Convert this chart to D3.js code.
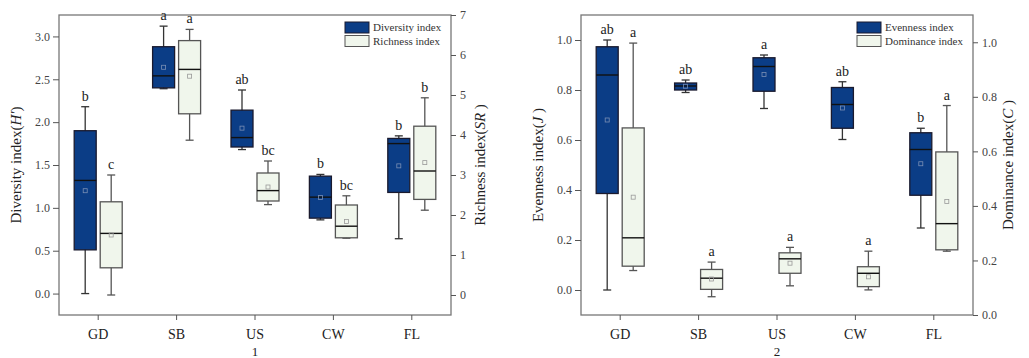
<!DOCTYPE html>
<html>
<head>
<meta charset="utf-8">
<script src="https://cdn.jsdelivr.net/npm/d3@7"></script>
<style>
  body { margin: 0; background: #fff; }
  svg text { font-family: "Liberation Serif", "DejaVu Serif", serif; }
</style>
</head>
<body>
<div id="chart"></div>
<script>
// Sites on the x axis
const categories = ["GD", "SB", "US", "CW", "FL"];

// Box stats per site: [whisker low, Q1, median, Q3, whisker high, mean]
const diversityStats = [
  [0.00, 0.51, 1.32, 1.90, 2.18, 1.20],
  [2.39, 2.40, 2.54, 2.88, 3.12, 2.64],
  [1.68, 1.71, 1.82, 2.14, 2.375, 1.93],
  [0.86, 0.88, 1.125, 1.37, 1.39, 1.12],
  [0.64, 1.18, 1.75, 1.81, 1.84, 1.49]
];
const richnessStats = [
  [0.00, 0.68, 1.54, 2.33, 3.00, 1.50],
  [3.87, 4.53, 5.64, 6.36, 6.64, 5.47],
  [2.26, 2.35, 2.61, 3.05, 3.35, 2.70],
  [1.42, 1.43, 1.72, 2.25, 2.48, 1.84],
  [2.12, 2.39, 3.10, 4.22, 4.93, 3.31]
];
const evennessStats = [
  [0.000, 0.386, 0.860, 0.973, 1.000, 0.680],
  [0.790, 0.800, 0.816, 0.828, 0.840, 0.815],
  [0.726, 0.795, 0.894, 0.929, 0.940, 0.862],
  [0.602, 0.647, 0.742, 0.810, 0.833, 0.728],
  [0.248, 0.379, 0.562, 0.629, 0.647, 0.505]
];
const dominanceStats = [
  [0.163, 0.179, 0.283, 0.686, 0.997, 0.432],
  [0.067, 0.094, 0.135, 0.167, 0.194, 0.132],
  [0.107, 0.153, 0.206, 0.228, 0.248, 0.190],
  [0.092, 0.104, 0.153, 0.177, 0.234, 0.140],
  [0.234, 0.239, 0.335, 0.598, 0.768, 0.416]
];

// Significance letters
const diversityLetters = ["b", "a", "ab", "b", "b"];
const richnessLetters = ["c", "a", "bc", "bc", "b"];
const evennessLetters = ["ab", "ab", "a", "ab", "b"];
const dominanceLetters = ["a", "a", "a", "a", "a"];

// Axis ticks
const diversityTicks = [0, 0.5, 1, 1.5, 2, 2.5, 3];
const richnessTicks = [0, 1, 2, 3, 4, 5, 6, 7];
const evennessTicks = [0, 0.2, 0.4, 0.6, 0.8, 1.0];
const dominanceTicks = [0, 0.2, 0.4, 0.6, 0.8, 1.0];

const darkFill = "#0b3d86";
const lightFill = "#f0f6ec";

const svg = d3.select("#chart")
  .append("svg")
  .attr("width", 1029)
  .attr("height", 358);

function drawPanel(p) {
  const top = 15, bottom = 315;
  const x = d3.scaleBand()
    .domain(categories)
    .range([p.left, p.left + 392]);
  const yL = d3.scaleLinear().domain(p.leftDomain).range([bottom, top]);
  const yR = d3.scaleLinear().domain(p.rightDomain).range([bottom, top]);

  const g = svg.append("g");

  // frame
  g.append("rect")
    .attr("x", p.left).attr("y", top)
    .attr("width", 392).attr("height", bottom - top)
    .attr("fill", "none").attr("stroke", "#777").attr("stroke-width", 1.3);

  // axes
  const styleAxis = sel => {
    sel.select(".domain").remove();
    sel.selectAll("line").attr("stroke", "#555");
    sel.selectAll("text").attr("fill", "#444").style("font-size", "12px");
  };
  g.append("g")
    .attr("transform", `translate(${p.left},0)`)
    .call(d3.axisLeft(yL).tickValues(p.leftTicks).tickFormat(d3.format(".1f")).tickSize(6).tickPadding(3))
    .call(styleAxis);
  g.append("g")
    .attr("transform", `translate(${p.left + 392},0)`)
    .call(d3.axisRight(yR).tickValues(p.rightTicks).tickFormat(p.rightFormat).tickSize(5).tickPadding(4))
    .call(styleAxis);
  const xa = g.append("g")
    .attr("transform", `translate(0,${bottom})`)
    .call(d3.axisBottom(x).tickSize(5).tickPadding(9))
    .call(styleAxis);
  xa.selectAll("text").attr("fill", "#222").style("font-size", "14px");

  // boxes
  const series = [
    { stats: p.leftStats, y: yL, dx: -13, fill: darkFill, stroke: "#1a1a2e", whisker: "#333", mean: "#7a8fb5", letters: p.leftLetters },
    { stats: p.rightStats, y: yR, dx: 13, fill: lightFill, stroke: "#555", whisker: "#555", mean: "#999", letters: p.rightLetters }
  ];
  const bw = 22, cap = 8;
  series.forEach(s => {
    const bg = g.append("g").selectAll("g")
      .data(s.stats)
      .enter().append("g")
      .attr("transform", (d, i) => `translate(${x(categories[i]) + x.bandwidth() / 2 + s.dx},0)`);
    bg.append("line")
      .attr("y1", d => s.y(d[0])).attr("y2", d => s.y(d[4]))
      .attr("stroke", s.whisker).attr("stroke-width", 1.3);
    bg.append("line")
      .attr("x1", -cap / 2).attr("x2", cap / 2)
      .attr("y1", d => s.y(d[4])).attr("y2", d => s.y(d[4]))
      .attr("stroke", s.whisker).attr("stroke-width", 1.3);
    bg.append("line")
      .attr("x1", -cap / 2).attr("x2", cap / 2)
      .attr("y1", d => s.y(d[0])).attr("y2", d => s.y(d[0]))
      .attr("stroke", s.whisker).attr("stroke-width", 1.3);
    bg.append("rect")
      .attr("x", -bw / 2).attr("width", bw)
      .attr("y", d => s.y(d[3]))
      .attr("height", d => s.y(d[1]) - s.y(d[3]))
      .attr("fill", s.fill).attr("stroke", s.stroke).attr("stroke-width", 1.3);
    bg.append("line")
      .attr("x1", -bw / 2).attr("x2", bw / 2)
      .attr("y1", d => s.y(d[2])).attr("y2", d => s.y(d[2]))
      .attr("stroke", "#111").attr("stroke-width", 1.4);
    bg.append("rect")
      .attr("x", -2).attr("width", 4).attr("height", 4)
      .attr("y", d => s.y(d[5]) - 2)
      .attr("fill", "none").attr("stroke", s.mean).attr("stroke-width", 0.8);
    bg.append("text")
      .attr("y", d => s.y(d[4]) - 6)
      .attr("text-anchor", "middle")
      .attr("fill", "#222")
      .style("font-size", "14px")
      .text((d, i) => s.letters[i]);
  });

  // legend
  const lg = g.append("g").attr("transform", `translate(${p.left + 392 - p.legendWidth},22)`);
  [[darkFill, "#1a1a2e", p.legend[0]], [lightFill, "#555", p.legend[1]]].forEach((l, i) => {
    lg.append("rect")
      .attr("x", 0).attr("y", i * 13.5)
      .attr("width", 24).attr("height", 11)
      .attr("fill", l[0]).attr("stroke", l[1]).attr("stroke-width", 1);
    lg.append("text")
      .attr("x", 28).attr("y", i * 13.5 + 9)
      .attr("fill", "#333")
      .style("font-size", "11px")
      .text(l[2]);
  });

  // axis titles
  const lt = g.append("text")
    .attr("transform", `translate(${p.left - 38},165) rotate(-90)`)
    .attr("text-anchor", "middle").attr("fill", "#222").style("font-size", "15px");
  lt.append("tspan").text(p.leftTitle[0]);
  lt.append("tspan").style("font-style", "italic").text(p.leftTitle[1]);
  lt.append("tspan").text(p.leftTitle[2]);

  const rt = g.append("text")
    .attr("transform", `translate(${p.left + 392 + p.rightTitleOffset},165) rotate(-90)`)
    .attr("text-anchor", "middle").attr("fill", "#222").style("font-size", "15px");
  rt.append("tspan").text(p.rightTitle[0]);
  rt.append("tspan").style("font-style", "italic").text(p.rightTitle[1]);
  rt.append("tspan").text(p.rightTitle[2]);

  // panel number
  g.append("text")
    .attr("x", x("US") + x.bandwidth() / 2)
    .attr("y", 356)
    .attr("text-anchor", "middle").attr("fill", "#222").style("font-size", "13px")
    .text(p.number);
}

drawPanel({
  left: 59,
  leftDomain: [-0.25, 3.25], rightDomain: [-0.5, 7],
  leftTicks: diversityTicks, rightTicks: richnessTicks, rightFormat: d3.format("d"),
  leftStats: diversityStats, rightStats: richnessStats,
  leftLetters: diversityLetters, rightLetters: richnessLetters,
  legend: ["Diversity index", "Richness index"],
  legendWidth: 106,
  leftTitle: ["Diversity index(", "H'", ")"],
  rightTitle: ["Richness index(", "SR", " )"],
  rightTitleOffset: 34,
  number: "1"
});

drawPanel({
  left: 581,
  leftDomain: [-0.1, 1.1], rightDomain: [0, 1.1],
  leftTicks: evennessTicks, rightTicks: dominanceTicks, rightFormat: d3.format(".1f"),
  leftStats: evennessStats, rightStats: dominanceStats,
  leftLetters: evennessLetters, rightLetters: dominanceLetters,
  legend: ["Evenness index", "Dominance index"],
  legendWidth: 116,
  leftTitle: ["Evenness index(", "J", " )"],
  rightTitle: ["Dominance index(", "C", " )"],
  rightTitleOffset: 40,
  number: "2"
});
</script>
</body>
</html>
